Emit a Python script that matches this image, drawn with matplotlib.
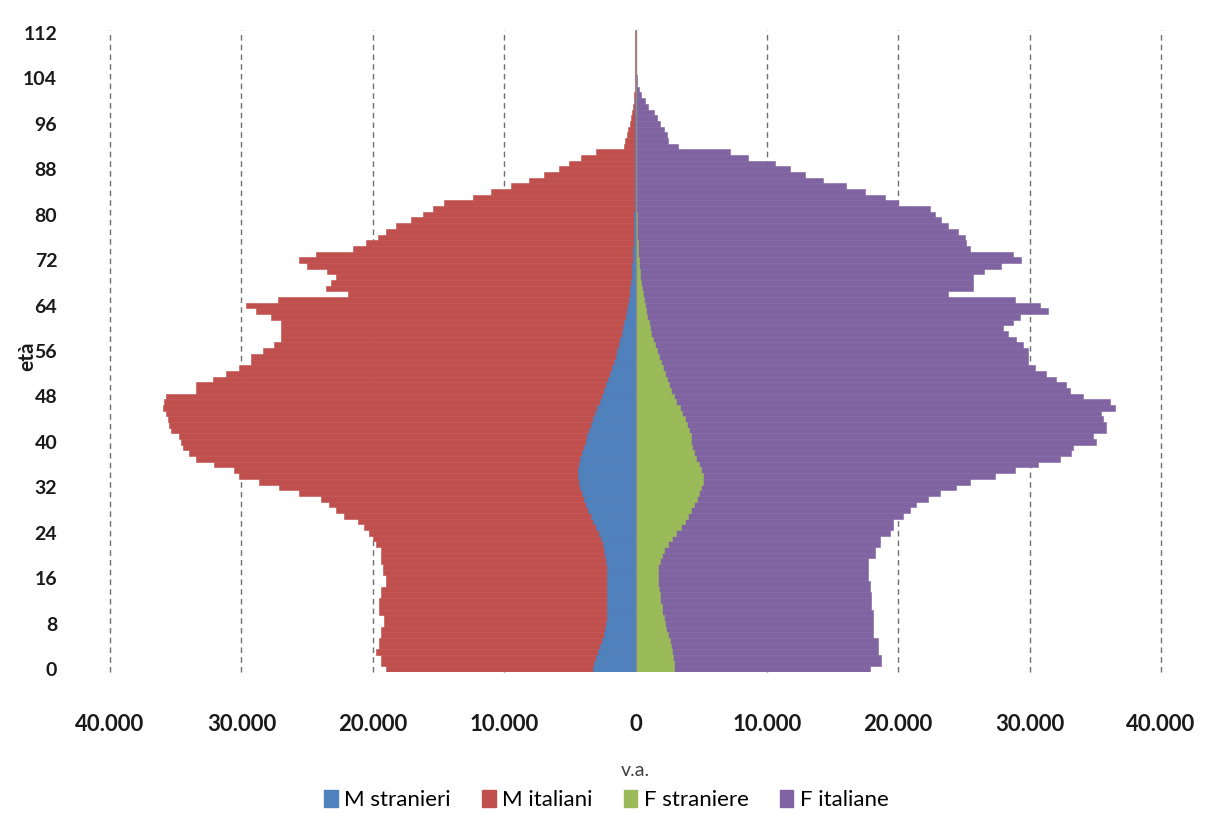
import numpy as np
import matplotlib
matplotlib.use("Agg")
import matplotlib.pyplot as plt
from matplotlib.patches import Patch

# Piramide delle età: valori assoluti per singolo anno di età (0-112)
eta = np.arange(113)

# Maschi: estensione totale della barra (stranieri + italiani)
m_totale = [
    18990, 19370, 19370, 19750, 19500, 19500, 19370, 19370, 19120, 19120,
    19500, 19500, 19500, 19370, 19370, 18990, 18990, 19240, 19240, 19370,
    19370, 19370, 19750, 20010, 20260, 20640, 21150, 22160, 22800, 23300,
    23940, 25590, 27110, 28640, 30160, 30540, 32060, 33460, 33970, 34470,
    34600, 34730, 35360, 35490, 35620, 35740, 35990, 35870, 35740, 33460,
    33460, 32180, 31170, 30160, 29270, 29270, 28380, 27500, 26990, 26990,
    26990, 26990, 27750, 28890, 29650, 27240, 21910, 23560, 23200, 22800,
    23500, 25000, 25590, 24320, 21530, 20510, 19630, 19000, 18230, 17090,
    16200, 15440, 14550, 12390, 10990, 9470, 8070, 6930, 5790, 5030,
    4140, 2990, 900, 800, 650, 550, 450, 350, 250, 180,
    120, 80, 50, 30, 20, 12, 8, 5, 3, 2,
    1, 1, 1,
]
m_stranieri = [
    3250, 3150, 3000, 2850, 2700, 2550, 2400, 2300, 2250, 2200,
    2200, 2150, 2150, 2150, 2150, 2150, 2150, 2200, 2200, 2250,
    2300, 2400, 2500, 2650, 2800, 3000, 3200, 3400, 3600, 3750,
    3900, 4050, 4200, 4300, 4400, 4400, 4300, 4200, 4100, 3950,
    3800, 3700, 3550, 3400, 3250, 3100, 2900, 2700, 2550, 2400,
    2250, 2100, 1950, 1800, 1650, 1500, 1400, 1250, 1150, 1050,
    950, 850, 750, 650, 580, 500, 450, 400, 350, 300,
    270, 240, 210, 190, 170, 150, 130, 115, 100, 90,
    80, 70, 60, 50, 40, 35, 30, 25, 20, 15,
    10, 8, 6, 5, 4, 3, 2, 2, 1, 1,
    1, 0, 0, 0, 0, 0, 0, 0, 0, 0,
    0, 0, 0,
]

# Femmine: estensione totale della barra (straniere + italiane)
f_totale = [
    17820, 18710, 18710, 18460, 18460, 18460, 18080, 18080, 18080, 18080,
    18080, 17950, 17950, 17950, 17820, 17820, 17690, 17690, 17690, 17690,
    18200, 18200, 18580, 18580, 19340, 19600, 19600, 20360, 20870, 21380,
    22260, 23150, 24420, 25440, 27340, 28870, 30640, 32290, 33180, 33310,
    35090, 34830, 35850, 35850, 35590, 35470, 36480, 36100, 34070, 33060,
    32800, 32040, 31280, 30390, 29880, 29880, 29880, 29500, 28990, 28360,
    27980, 28740, 29250, 31400, 30770, 28870, 23790, 25690, 25690, 25690,
    26500, 27850, 29370, 28740, 25440, 25180, 25060, 24550, 23790, 23280,
    22770, 22390, 19980, 18960, 17440, 16040, 14270, 12870, 11730, 10590,
    8550, 7160, 3200, 2500, 2400, 2150, 1900, 1650, 1400, 950,
    700, 450, 250, 150, 80, 50, 30, 20, 10, 5,
    3, 2, 1,
]
f_straniere = [
    2950, 2900, 2850, 2800, 2700, 2600, 2450, 2350, 2250, 2150,
    2050, 2000, 1900, 1850, 1800, 1750, 1700, 1700, 1750, 1850,
    2000, 2200, 2450, 2750, 3100, 3450, 3750, 4000, 4250, 4450,
    4650, 4850, 5000, 5100, 5100, 5000, 4800, 4600, 4450, 4300,
    4250, 4200, 4100, 3950, 3750, 3550, 3350, 3100, 2900, 2700,
    2550, 2400, 2250, 2100, 1950, 1800, 1650, 1500, 1350, 1200,
    1100, 1000, 900, 800, 700, 620, 550, 480, 420, 370,
    330, 290, 250, 220, 190, 160, 140, 120, 100, 90,
    80, 70, 60, 50, 45, 40, 35, 30, 25, 20,
    15, 10, 8, 6, 5, 4, 3, 2, 2, 1,
    1, 1, 0, 0, 0, 0, 0, 0, 0, 0,
    0, 0, 0,
]

x_ticks = [-40000, -30000, -20000, -10000, 0, 10000, 20000, 30000, 40000]
y_ticks = list(range(0, 113, 8))

col_m_str = '#4F81BD'
col_m_ita = '#C0504D'
col_f_str = '#9BBB59'
col_f_ita = '#8064A2'

plt.rcParams['font.family'] = ['Lato', 'DejaVu Sans']

fig = plt.figure(figsize=(12.13, 8.21), dpi=100)
ax = fig.add_axes([110 / 1213, 1 - 672 / 821, 1051 / 1213, 642 / 821])

# barre: prima il totale (italiani), sopra gli stranieri vicino all'asse
ax.barh(eta, -np.array(m_totale), height=1.0, color=col_m_ita,
        edgecolor=col_m_ita, linewidth=0.4, zorder=2)
ax.barh(eta, -np.array(m_stranieri), height=1.0, color=col_m_str,
        edgecolor=col_m_str, linewidth=0.4, zorder=3)
ax.barh(eta, f_totale, height=1.0, color=col_f_ita,
        edgecolor=col_f_ita, linewidth=0.4, zorder=2)
ax.barh(eta, f_straniere, height=1.0, color=col_f_str,
        edgecolor=col_f_str, linewidth=0.4, zorder=3)

# griglia verticale tratteggiata
for xv in x_ticks:
    if xv == 0:
        continue
    ax.axvline(xv, color='#6f6f6f', lw=1.0, ls=(0, (4, 3)), zorder=1,
               clip_on=False)
ax.axvline(0, color='#8a8a8a', lw=1.0, zorder=4)

ax.set_xlim(-40000, 40000)
ax.set_ylim(-0.5, 112.5)
ax.set_xticks(x_ticks)
ax.set_xticklabels([f'{abs(v):,}'.replace(',', '.') for v in x_ticks],
                   fontsize=16, fontweight='bold', color='#1a1a1a')
ax.set_yticks(y_ticks)
ax.set_yticklabels([str(v) for v in y_ticks], fontsize=14,
                   fontweight='bold', color='#1a1a1a')
ax.tick_params(axis='both', length=0)
ax.tick_params(axis='y', pad=38)
ax.tick_params(axis='x', pad=30)
for s in ax.spines.values():
    s.set_visible(False)

ax.set_xlabel('v.a.', fontsize=14, color='#404040', labelpad=20)
fig.text(27 / 1213, 1 - 356 / 821, 'età', rotation=90, fontsize=15,
         fontweight='bold', color='#1a1a1a', ha='center', va='center')

handles = [Patch(color=col_m_str, label='M stranieri'),
           Patch(color=col_m_ita, label='M italiani'),
           Patch(color=col_f_str, label='F straniere'),
           Patch(color=col_f_ita, label='F italiane')]
fig.legend(handles=handles, loc='center', bbox_to_anchor=(0.5, 1 - 800 / 821),
           ncol=4, frameon=False, fontsize=16, handlelength=0.6,
           handleheight=0.8, handletextpad=0.3, columnspacing=1.4)

fig.savefig('out.png', dpi=100, facecolor='white')
